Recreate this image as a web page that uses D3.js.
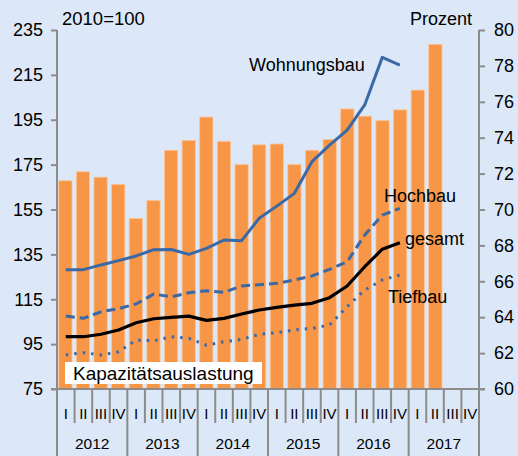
<!DOCTYPE html>
<meta charset="utf-8">
<style>
    body { margin: 0; background: #dce8f7; }
    svg { display: block; font-family: "Liberation Sans", Arial, sans-serif; }
    .tick text { fill: #000; }
</style>
<svg width="518" height="456"></svg>
<script src="https://d3js.org/d3.v7.min.js"></script>
<script>
    var years = ["2012", "2013", "2014", "2015", "2016", "2017"];
    var quarterNames = ["I", "II", "III", "IV"];
    // Kapazitaetsauslastung in Prozent (rechte Achse)
    var auslastung = [71.6, 72.1, 71.8, 71.4, 69.5, 70.5, 73.3, 73.85, 75.15, 73.8, 72.5, 73.6,
                      73.65, 72.5, 73.3, 73.9, 75.6, 75.2, 74.95, 75.55, 76.65, 79.2, null, null];
    // Indizes 2010=100 (linke Achse)
    var wohnungsbau = [128.2, 128.2, 130.3, 132.2, 134.3, 137.1, 137.2, 135.0, 137.7, 141.4, 141.1, 151.1,
                       156.5, 162.2, 176.3, 183.7, 190.4, 201.6, 222.8, 219.4];
    var hochbau = [107.5, 106.5, 109.4, 110.8, 112.9, 117.3, 116.1, 117.9, 118.8, 118.1, 120.9, 121.5,
                   122.1, 123.6, 125.4, 128.3, 131.7, 143.6, 152.5, 155.5];
    var gesamt = [98.3, 98.3, 99.4, 101.3, 104.5, 106.3, 106.9, 107.5, 105.6, 106.5, 108.4, 110.2,
                  111.4, 112.4, 113.2, 115.7, 120.9, 129.5, 137.3, 140.2];
    var tiefbau = [90.2, 91.2, 90.2, 91.6, 96.8, 96.5, 98.3, 97.6, 94.5, 96.1, 97.1, 99.4,
                   100.1, 101.3, 102.0, 103.5, 111.7, 119.1, 123.6, 125.8];
    var leftTicks = [75, 95, 115, 135, 155, 175, 195, 215, 235];
    var rightTicks = [60, 62, 64, 66, 68, 70, 72, 74, 76, 78, 80];

    var svg = d3.select("svg"),
        plotLeft = 57, plotRight = 479, plotTop = 30, plotBottom = 389;

    var quarters = [];
    years.forEach(function(y) {
        quarterNames.forEach(function(q) { quarters.push(y + "-" + q); });
    });

    var x = d3.scaleBand().domain(quarters).range([plotLeft, plotRight]).paddingInner(0.25).paddingOuter(0.1);
    var xs = d3.scaleBand().domain(quarters).range([plotLeft, plotRight]);
    var yL = d3.scaleLinear().domain([75, 235]).range([plotBottom, plotTop]);
    var yR = d3.scaleLinear().domain([60, 80]).range([plotBottom, plotTop]);

    var grey = "#8c8c8c", blue = "#3b68a6";

    // Balken
    svg.append("g").selectAll("rect")
        .data(auslastung.map(function(v, i) { return { q: quarters[i], v: v }; }).filter(function(d) { return d.v != null; }))
        .enter().append("rect")
        .attr("x", function(d) { return x(d.q); })
        .attr("width", x.bandwidth())
        .attr("y", function(d) { return yR(d.v); })
        .attr("height", function(d) { return plotBottom - yR(d.v); })
        .attr("fill", "#f79646")
        .attr("stroke", "#fbc495")
        .attr("stroke-width", 0.8);

    // Linien
    var line = d3.line()
        .x(function(d, i) { return xs(quarters[i]) + xs.bandwidth() / 2; })
        .y(function(d) { return yL(d); });

    function drawLine(data, color, dash, width) {
        svg.append("path")
            .attr("d", line(data))
            .attr("fill", "none")
            .attr("stroke", color)
            .attr("stroke-width", width)
            .attr("stroke-linejoin", "round")
            .attr("stroke-dasharray", dash);
    }
    drawLine(wohnungsbau, blue, null, 3);
    drawLine(hochbau, blue, "9,5", 3);
    drawLine(tiefbau, blue, "2.5,6", 3);
    drawLine(gesamt, "#000", null, 3.2);

    // Achsen
    var axL = svg.append("g").attr("transform", "translate(" + plotLeft + ",0)")
        .call(d3.axisLeft(yL).tickValues(leftTicks).tickSize(6).tickPadding(8));
    var axR = svg.append("g").attr("transform", "translate(" + plotRight + ",0)")
        .call(d3.axisRight(yR).tickValues(rightTicks).tickSize(6).tickPadding(9));
    [axL, axR].forEach(function(ax) {
        ax.select(".domain").remove();
        ax.selectAll("line").attr("stroke", grey).attr("stroke-width", 2);
        ax.selectAll("text").attr("font-size", 18).attr("font-family", "Liberation Sans, Arial, sans-serif");
    });
    svg.append("line").attr("x1", plotLeft).attr("x2", plotLeft).attr("y1", plotTop).attr("y2", 456)
        .attr("stroke", grey).attr("stroke-width", 2);
    svg.append("line").attr("x1", plotRight).attr("x2", plotRight).attr("y1", plotTop).attr("y2", 456)
        .attr("stroke", grey).attr("stroke-width", 2);
    svg.append("line").attr("x1", plotLeft - 6).attr("x2", plotRight + 6).attr("y1", plotBottom).attr("y2", plotBottom)
        .attr("stroke", grey).attr("stroke-width", 2);

    // Quartale und Jahre
    var xg = svg.append("g");
    quarters.forEach(function(q, i) {
        var x0 = xs(q);
        if (i > 0) {
            xg.append("line").attr("x1", x0).attr("x2", x0).attr("y1", plotBottom)
                .attr("y2", i % 4 === 0 ? 456 : 423)
                .attr("stroke", grey).attr("stroke-width", 2);
        }
        xg.append("text").attr("x", x0 + xs.bandwidth() / 2).attr("y", 419)
            .attr("text-anchor", "middle").attr("font-size", 15)
            .text(quarterNames[i % 4]);
    });
    years.forEach(function(y) {
        var x0 = xs(y + "-I"), x1 = xs(y + "-IV") + xs.bandwidth();
        xg.append("text").attr("x", (x0 + x1) / 2).attr("y", 449)
            .attr("text-anchor", "middle").attr("font-size", 15.5).text(y);
    });

    // Beschriftungen
    svg.append("text").attr("x", 62).attr("y", 25).attr("font-size", 18.5).text("2010=100");
    svg.append("text").attr("x", 472).attr("y", 25).attr("text-anchor", "end").attr("font-size", 18).text("Prozent");

    svg.append("rect").attr("x", 65).attr("y", 362).attr("width", 197).attr("height", 22).attr("fill", "#fff");
    svg.append("text").attr("x", 73).attr("y", 380).attr("font-size", 19).text("Kapazitätsauslastung");

    var labels = [
        { t: "Wohnungsbau", x: 249, y: 71 },
        { t: "Hochbau", x: 384, y: 202 },
        { t: "gesamt", x: 405, y: 245 },
        { t: "Tiefbau", x: 388, y: 303 }
    ];
    svg.append("g").selectAll("text").data(labels).enter().append("text")
        .attr("x", function(d) { return d.x; })
        .attr("y", function(d) { return d.y; })
        .attr("font-size", 18)
        .text(function(d) { return d.t; });
</script>
